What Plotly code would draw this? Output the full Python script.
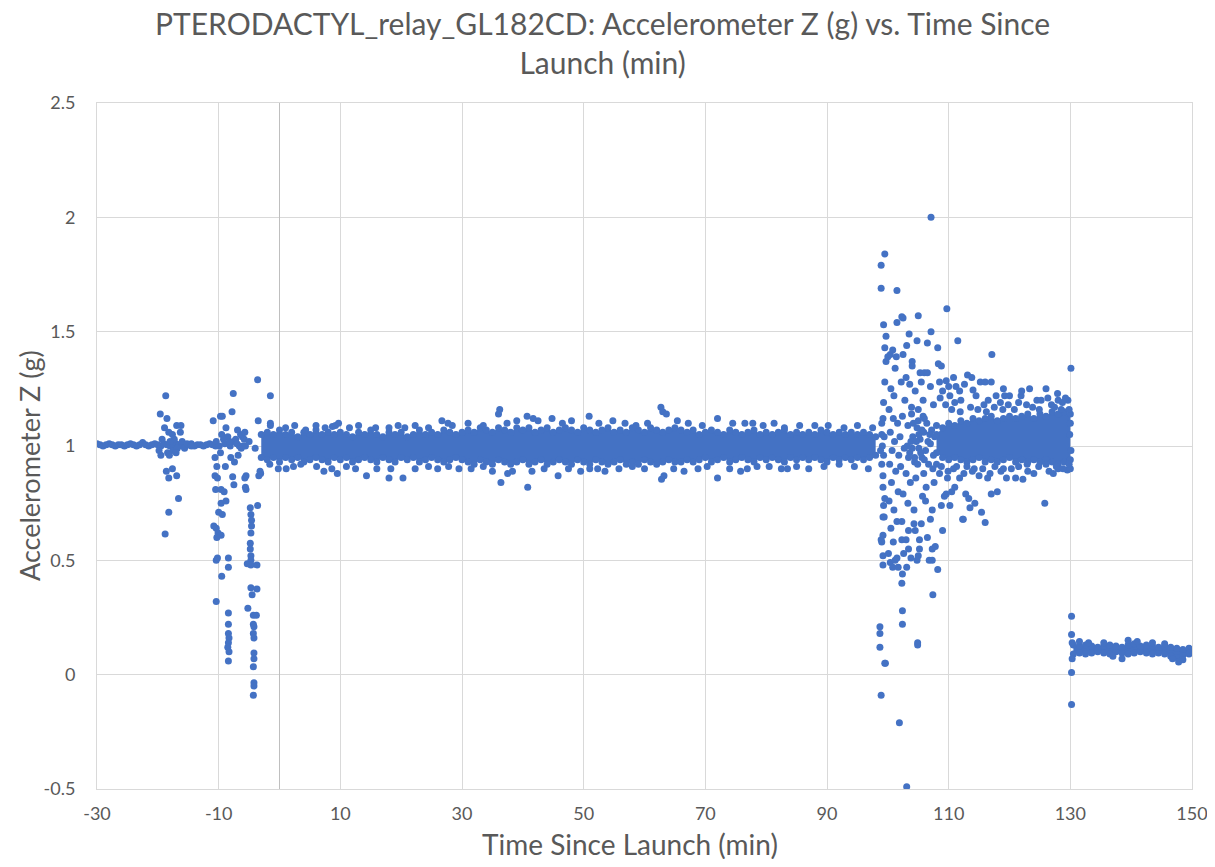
import plotly.graph_objects as go

# ---- data ----
x_ticks = [-30, -10, 10, 30, 50, 70, 90, 110, 130, 150]
x_ticklabels = ["-30", "-10", "10", "30", "50", "70", "90", "110", "130", "150"]
y_ticks = [-0.5, 0, 0.5, 1, 1.5, 2, 2.5]
y_ticklabels = ["-0.5", "0", "0.5", "1", "1.5", "2", "2.5"]

# flat pre-launch readings
flat_t = [-30.0, -29.5, -29.0, -28.5, -28.0, -27.5, -27.0, -26.5, -26.0, -25.5,
          -25.0, -24.5, -24.0, -23.5, -23.0, -22.5, -22.0, -21.5, -21.0, -20.5,
          -20.0, -19.5, -19.0, -18.5, -18.0, -17.5, -17.0, -16.5, -16.0, -15.5,
          -15.0, -14.5, -14.0, -13.5, -13.0, -12.5, -12.0, -11.5, -11.0, -10.5]
flat_y = [1.01, 1.005, 1.0, 1.005, 1.01, 1.005, 1.0, 1.005, 1.005, 1.0,
          1.005, 1.01, 1.005, 1.0, 1.005, 1.015, 1.005, 1.0, 1.005, 1.01,
          1.005, 1.0, 1.01, 1.005, 1.0, 1.005, 1.01, 1.005, 1.0, 1.005,
          1.005, 1.01, 1.0, 1.005, 1.005, 1.0, 1.005, 1.01, 1.005, 1.0]

# scattered pre-launch readings
pre_t = [-19.6, -18.7, -18.5, -18.9, -18.2, -17.6, -16.9, -16.2, -16.3, -17.3,
         -19.3, -18.0, -16.0, -19.8, -18.4, -17.5, -16.8, -19.5, -18.1, -17.0,
         -15.6, -18.6, -17.6, -18.2, -16.9, -16.6, -18.2, -18.8, -15.2, -14.5,
         -10.9, -9.7, -9.4, -7.6, -7.8, -8.8, -9.5, -8.5, -7.2, -10.4,
         -9.9, -9.0, -8.1, -7.5, -6.6, -6.1, -10.6, -10.3, -8.9, -10.6,
         -10.2, -7.7, -7.5, -10.5, -9.6, -9.1, -9.6, -8.8, -10.0, -9.4,
         -10.8, -10.4, -10.1, -9.6, -10.3, -10.4, -10.2, -8.4, -8.4, -9.5,
         -10.4, -8.4, -8.4, -8.4, -8.3, -8.4, -8.5, -8.3, -8.4, -9.7,
         -8.0, -7.4, -6.8, -6.3, -9.2, -8.2, -7.0, -6.0, -5.8, -6.4,
         -3.6, -3.5, -5.7, -5.6, -5.5, -5.7, -5.6, -5.5, -3.6, -4.8,
         -4.7, -4.6, -4.6, -4.7, -4.8, -4.8, -4.7, -4.7, -4.7, -3.7,
         -5.3, -4.7, -3.7, -4.5, -5.2, -4.3, -3.8, -4.3, -4.2, -4.3,
         -4.2, -4.2, -4.2, -4.3, -4.2, -4.2, -4.3, -3.1, -3.4, -3.2,
         -1.5, -1.5, -1.5, -1.6, -0.2, -5.0, -4.0, -6.9]
pre_y = [1.14, 1.22, 1.12, 1.08, 1.06, 1.05, 1.09, 1.09, 1.06, 1.03,
         1.03, 1.02, 1.02, 0.98, 0.97, 0.98, 0.99, 0.96, 0.96, 0.97,
         0.99, 0.89, 0.90, 0.86, 0.87, 0.77, 0.71, 0.615, 1.01, 1.0,
         1.11, 1.13, 1.13, 1.23, 1.15, 1.08, 1.05, 1.04, 1.03, 1.02,
         1.0, 1.01, 1.0, 1.02, 1.0, 1.04, 0.95, 0.91, 0.91, 0.87,
         0.86, 0.865, 0.83, 0.81, 0.81, 0.80, 0.75, 0.76, 0.71, 0.70,
         0.65, 0.64, 0.62, 0.61, 0.60, 0.50, 0.51, 0.51, 0.47, 0.43,
         0.32, 0.27, 0.22, 0.18, 0.16, 0.14, 0.12, 0.10, 0.06, 0.97,
         0.95, 0.93, 0.96, 0.99, 1.03, 1.02, 1.01, 1.0, 1.03, 1.05,
         1.29, 1.11, 1.06, 1.0, 0.87, 0.86, 0.82, 0.81, 0.74, 0.73,
         0.70, 0.675, 0.65, 0.62, 0.575, 0.55, 0.52, 0.50, 0.48, 0.48,
         0.485, 0.38, 0.375, 0.35, 0.29, 0.26, 0.26, 0.22, 0.21, 0.18,
         0.16, 0.095, 0.07, 0.035, -0.035, -0.05, -0.09, 0.88, 0.87, 0.89,
         1.22, 1.10, 1.09, 0.92, 0.90, 1.02, 0.99, 1.07]

# ascent/float band: upper and lower edge of the dense cloud, every minute
band_t = [-3, -2, -1, 0, 1, 2, 3, 4, 5, 6, 7, 8, 9,
          10, 11, 12, 13, 14, 15, 16, 17, 18, 19, 20, 21, 22, 23, 24, 25, 26, 27, 28, 29,
          30, 31, 32, 33, 34, 35, 36, 37, 38, 39, 40, 41, 42, 43, 44, 45, 46, 47,
          48, 49, 50, 51, 52, 53, 54, 55, 56, 57, 58, 59, 60, 61, 62, 63, 64, 65,
          66, 67, 68, 69, 70, 71, 72, 73, 74, 75, 76, 77, 78, 79, 80, 81, 82,
          83, 84, 85, 86, 87, 88, 89, 90, 91, 92, 93, 94, 95, 96, 97, 98]
band_top = [1.05, 1.06, 1.05, 1.07, 1.05, 1.06, 1.04, 1.06, 1.05, 1.07, 1.05, 1.06, 1.05,
            1.06, 1.05, 1.04, 1.06, 1.05, 1.07, 1.05, 1.04, 1.06, 1.05, 1.06, 1.04, 1.05,
            1.07, 1.05, 1.06, 1.05, 1.07, 1.06, 1.05,
            1.06, 1.07, 1.06, 1.08, 1.07, 1.06, 1.08, 1.07, 1.06, 1.08, 1.07, 1.08, 1.06,
            1.07, 1.08, 1.06, 1.07, 1.08, 1.07, 1.06, 1.08, 1.07, 1.06, 1.07, 1.08, 1.06,
            1.07, 1.06, 1.08, 1.07, 1.06, 1.08, 1.07, 1.06, 1.07, 1.08,
            1.07, 1.06, 1.07, 1.05, 1.06, 1.07, 1.06, 1.05, 1.07, 1.06, 1.05, 1.06, 1.07,
            1.05, 1.06, 1.05, 1.06, 1.07, 1.05, 1.06, 1.05, 1.06, 1.05, 1.07, 1.06, 1.05,
            1.06, 1.05, 1.06, 1.05, 1.06, 1.05, 1.04]
band_bot = [0.95, 0.94, 0.95, 0.93, 0.95, 0.94, 0.95, 0.93, 0.94, 0.95, 0.94, 0.93, 0.95,
            0.94, 0.95, 0.93, 0.94, 0.95, 0.94, 0.93, 0.95, 0.94, 0.93, 0.95, 0.94, 0.95,
            0.93, 0.94, 0.95, 0.94, 0.93, 0.94, 0.95,
            0.94, 0.93, 0.92, 0.94, 0.93, 0.92, 0.94, 0.93, 0.92, 0.93, 0.94, 0.92, 0.93,
            0.94, 0.92, 0.93, 0.94, 0.93, 0.92, 0.94, 0.93, 0.92, 0.94, 0.93, 0.92, 0.93,
            0.94, 0.92, 0.93, 0.92, 0.94, 0.93, 0.92, 0.93, 0.94, 0.93,
            0.93, 0.94, 0.93, 0.94, 0.95, 0.93, 0.94, 0.95, 0.93, 0.94, 0.95, 0.94, 0.93,
            0.95, 0.94, 0.95, 0.94, 0.93, 0.95, 0.94, 0.95, 0.94, 0.95, 0.94, 0.93, 0.95,
            0.94, 0.95, 0.94, 0.95, 0.94, 0.95, 0.96]

# stray readings around the band
asc_t = [1.0, 2.5, 4.3, 6.0, 7.5, 8.7, 9.2, 9.7, 11.5, 13.0, 15.8, 18.0, 19.5, 20.6,
         22.3, 24.5, 26.7, 27.7, 28.4, 31.0, 33.5, 36.2, 36.0, 37.4, 39.0, 40.7, 42.5,
         41.7, 44.8, 46.5, 48.0, 50.9, 52.5, 54.8, 56.8, 58.6, 60.5, 62.7, 63.0, 63.6,
         65.4, 67.2, 69.5, 72.0, 74.5, 76.5, 77.8, 79.5, 81.3, 83.0, 85.5, 88.0, 90.2,
         92.8, 95.0, 97.5,
         1.1, 2.3, 3.5, 6.1, 7.3, 8.6, 9.5, 11.0, 12.5, 14.3, 16.0, 18.0, 20.3, 18.3,
         22.3, 24.5, 26.0, 27.8, 29.5, 31.5, 33.5, 35.0, 36.4, 37.5, 38.3, 40.8, 41.5,
         43.5, 45.8, 47.5, 49.5, 51.0, 52.3, 53.5, 55.8, 58.0, 60.0, 62.8, 63.2, 64.8,
         66.5, 68.8, 70.3, 72.0, 74.0, 75.8, 76.9, 78.5, 80.5, 82.5, 83.5, 85.0, 87.0,
         89.5, 92.0, 94.5, 96.8]
asc_y = [1.08, 1.09, 1.07, 1.09, 1.08, 1.085, 1.09, 1.10, 1.08, 1.09, 1.08, 1.08, 1.09, 1.08,
         1.09, 1.08, 1.11, 1.10, 1.09, 1.10, 1.09, 1.16, 1.14, 1.10, 1.11, 1.13, 1.11,
         1.12, 1.12, 1.10, 1.11, 1.13, 1.10, 1.11, 1.10, 1.09, 1.10, 1.17, 1.15, 1.14,
         1.11, 1.10, 1.09, 1.12, 1.10, 1.10, 1.10, 1.09, 1.10, 1.08, 1.09, 1.09, 1.09,
         1.08, 1.09, 1.08,
         0.90, 0.91, 0.92, 0.91, 0.89, 0.90, 0.88, 0.91, 0.90, 0.87, 0.90, 0.86, 0.86, 0.90,
         0.90, 0.91, 0.90, 0.91, 0.90, 0.90, 0.91, 0.89, 0.84, 0.88, 0.89, 0.82, 0.89,
         0.90, 0.87, 0.90, 0.89, 0.90, 0.90, 0.89, 0.90, 0.91, 0.90, 0.855, 0.87, 0.90,
         0.89, 0.90, 0.91, 0.86, 0.90, 0.89, 0.90, 0.91, 0.91, 0.90, 0.90, 0.91, 0.90,
         0.91, 0.92, 0.91, 0.90]

# descent: dense core edges
desc_t = [108, 109, 110, 111, 112, 113, 114, 115, 116, 117, 118, 119,
          120, 121, 122, 123, 124, 125, 126, 127, 128, 129, 130]
desc_top = [1.05, 1.08, 1.10, 1.09, 1.11, 1.10, 1.12, 1.11, 1.12, 1.13, 1.11, 1.12,
            1.13, 1.12, 1.13, 1.14, 1.12, 1.14, 1.13, 1.15, 1.14, 1.15, 1.14]
desc_bot = [0.97, 0.95, 0.94, 0.95, 0.94, 0.93, 0.94, 0.95, 0.93, 0.94, 0.93, 0.94,
            0.95, 0.93, 0.94, 0.93, 0.94, 0.93, 0.94, 0.93, 0.92, 0.93, 0.94]

# descent: looser readings around 1 g before the core settles
desc_mid_t = [103.2, 103.6, 104.1, 104.4, 104.8, 105.1, 105.3, 105.6, 105.9, 106.2,
              106.4, 106.7, 107.0, 107.2, 107.5, 107.7, 108.0, 104.0, 105.0, 106.0,
              106.9, 107.4, 103.9, 105.8, 106.6]
desc_mid_y = [1.00, 0.97, 1.04, 0.93, 1.08, 0.99, 1.03, 0.95, 1.06, 0.98,
              1.10, 0.92, 1.01, 1.07, 0.96, 1.04, 1.09, 0.99, 1.11, 0.94,
              1.05, 0.90, 1.14, 1.13, 1.02]

# descent: scattered readings
desc_pts_t = [98.9, 98.9, 99.5, 99.3, 99.7, 99.5, 99.7, 99.5, 99.3, 99.2, 99.0, 99.1,
              99.3, 99.2, 99.2, 99.5, 99.2, 99.4, 99.2, 99.0, 99.2, 99.2, 98.9, 98.7,
              98.7, 98.7, 99.5, 99.6, 98.9, 99.0, 98.8, 99.4, 99.0, 99.3,
              100.0, 100.4, 100.8, 101.5, 101.5, 101.4, 101.2, 100.5, 101.0, 100.2,
              100.9, 101.6, 100.4, 101.1, 100.7, 101.8, 100.3, 101.3, 100.6, 101.7,
              100.2, 101.0, 100.5, 101.5, 100.1, 100.4, 100.8, 101.2, 101.7, 101.9,
              101.5, 100.9,
              102.3, 102.5, 103.1, 103.5, 102.5, 103.0, 104.0, 104.0, 102.2, 103.6,
              102.8, 103.9, 102.4, 103.3, 102.0, 103.8, 102.7, 103.4, 102.1, 103.0,
              103.7, 102.5, 103.3, 102.3, 102.3, 103.0, 103.4, 102.3, 102.4, 103.1,
              102.4, 102.4, 103.1, 102.6, 103.4, 103.8, 104.3, 104.5,
              105.0, 104.8, 106.5, 105.3, 106.0, 106.5, 105.5, 104.5, 105.8, 107.0,
              104.9, 104.9, 105.2, 105.0, 104.8, 105.5, 105.2, 106.5, 106.8, 107.3,
              107.4, 107.3, 107.8, 107.0, 107.3, 105.7, 106.3, 104.6, 105.9, 107.6,
              106.2, 104.3, 107.1, 107.1, 107.5, 105.0, 106.0, 104.2, 104.7, 105.4,
              104.4, 105.1, 104.9, 105.6,
              108.2, 108.3, 108.8, 109.7, 109.6, 108.5, 109.0, 110.2, 111.5, 110.8,
              111.2, 108.2, 109.0, 108.8, 109.3, 109.6, 110.5, 110.2, 111.0, 109.8,
              108.5, 111.8, 112.4, 112.3, 112.8, 108.0, 110.8, 112.0, 112.6,
              113.1, 113.8, 115.2, 116.0, 117.0, 117.1, 114.0, 114.5, 116.5, 118.5,
              119.2, 120.0, 113.3, 114.3, 113.5, 115.4, 116.0, 117.0, 118.0, 119.5,
              121.0, 122.2, 115.0, 116.8, 118.6, 114.2, 113.0, 120.3, 117.5, 115.8,
              123.3, 127.9, 124.5, 128.7, 126.3, 121.5, 125.2, 122.8, 130.1, 125.8,
              124.0, 126.5, 128.0, 129.5, 130.0, 123.0, 127.2, 129.8, 129.9, 130.0,
              130.1, 129.8, 129.6, 128.0,
              108.6, 109.5, 110.5, 111.0, 111.9, 113.6, 114.8, 116.2, 117.8, 118.9,
              119.8, 120.8, 121.9, 123.8, 124.9, 126.9, 127.4, 128.5, 129.2, 126.0,
              122.0, 119.0, 110.0, 111.8,
              108.8, 109.9, 111.3, 112.5, 113.9, 115.6, 116.4, 117.6, 119.0, 121.5,
              122.9, 124.8, 126.0, 127.7, 128.8]
desc_pts_y = [1.79, 1.69, 1.84, 1.53, 1.48, 1.43, 1.37, 1.28, 1.19, 1.12, 1.05, 1.00,
              0.96, 0.87, 0.82, 0.77, 0.69, 0.69, 0.61, 0.58, 0.52, 0.48, 0.59, 0.21,
              0.18, 0.12, 0.05, 0.05, -0.09, 1.10, 0.98, 1.04, 0.92, 0.74,
              1.39, 1.40, 1.42, 1.68, 1.54, 1.39, 1.34, 1.25, 1.22, 1.16,
              1.12, 1.10, 1.06, 1.02, 0.98, 0.96, 0.92, 0.89, 0.84, 0.80,
              0.76, 0.72, 0.64, 0.67, 0.53, 0.49, 0.47, 0.50, 0.47, -0.21,
              0.51, 0.58,
              1.565, 1.56, 1.44, 1.49, 1.40, 1.30, 1.37, 1.35, 1.28, 1.27,
              1.20, 1.17, 1.13, 1.09, 1.04, 1.02, 0.99, 0.95, 0.91, 0.88,
              0.84, 0.79, 0.75, 0.67, 0.59, 0.59, 0.63, 0.40, 0.44, 0.47,
              0.28, 0.22, -0.49, 0.53, 0.55, 0.51, 0.66, 0.63,
              1.57, 1.46, 1.45, 1.32, 1.32, 1.32, 1.28, 1.24, 1.20, 1.26,
              0.14, 0.13, 0.55, 0.52, 0.50, 0.66, 0.59, 0.60, 0.50, 0.50,
              0.35, 0.55, 0.56, 0.68, 0.72, 0.78, 0.82, 0.86, 0.88, 0.84,
              0.76, 0.72, 2.00, 1.50, 1.18, 1.16, 1.12, 1.10, 1.02, 0.97,
              0.95, 1.05, 0.92, 1.07,
              1.43, 1.36, 1.35, 1.60, 1.285, 1.28, 1.24, 1.22, 1.46, 1.30,
              1.26, 0.46, 0.63, 0.74, 0.78, 0.79, 0.80, 0.74, 0.82, 0.86,
              0.88, 0.86, 0.68, 0.68, 0.79, 0.92, 0.90, 1.20, 1.27,
              1.31, 1.30, 1.28, 1.28, 1.28, 1.40, 1.245, 1.22, 1.20, 1.19,
              1.22, 1.22, 0.77, 0.75, 0.73, 0.71, 0.665, 0.79, 0.80, 0.86,
              0.86, 0.855, 0.87, 0.88, 0.89, 0.90, 0.91, 0.90, 1.17, 1.18,
              1.25, 1.23, 1.20, 1.19, 1.21, 1.19, 1.20, 1.18, 1.34, 0.75,
              0.88, 0.89, 0.90, 0.895, 0.90, 0.89, 0.88, 0.92, 1.05, 1.10,
              0.98, 1.16, 1.20, 1.20,
              1.21, 1.18, 1.16, 1.19, 1.15, 1.17, 1.16, 1.15, 1.22, 1.16,
              1.18, 1.16, 1.22, 1.17, 1.16, 1.18, 1.17, 1.16, 1.21, 1.25,
              1.24, 1.25, 1.26, 1.24,
              0.91, 0.89, 0.91, 0.88, 0.89, 0.90, 0.86, 0.91, 0.90, 0.91,
              0.92, 0.91, 0.92, 0.91, 0.90]

# on the ground after landing
ground_t = [130.5, 131.5, 132.5, 133.5, 134.5, 135.5, 136.5, 137.5, 138.5, 139.5,
            140.5, 141.5, 142.5, 143.5, 144.5, 145.5, 146.5, 147.5, 148.5, 149.5]
ground_top = [0.13, 0.125, 0.13, 0.125, 0.12, 0.125, 0.13, 0.125, 0.12, 0.13,
              0.135, 0.125, 0.13, 0.125, 0.12, 0.125, 0.12, 0.115, 0.11, 0.115]
ground_bot = [0.09, 0.095, 0.09, 0.095, 0.10, 0.095, 0.09, 0.10, 0.095, 0.09,
              0.095, 0.10, 0.095, 0.09, 0.095, 0.09, 0.08, 0.075, 0.085, 0.09]
ground_pts_t = [130.2, 130.2, 130.2, 130.2, 130.3, 130.3, 131.5, 133.0, 135.5, 137.0,
                138.5, 139.5, 141.0, 143.5, 145.5, 146.8, 147.8, 148.5, 149.6, 150.0]
ground_pts_y = [0.255, 0.176, 0.01, -0.13, 0.14, 0.07, 0.145, 0.14, 0.14, 0.08,
                0.07, 0.15, 0.145, 0.14, 0.135, 0.07, 0.055, 0.065, 0.095, 0.10]

BLUE = "#4472C4"
GREY = "#595959"
GRID = "#D9D9D9"
FONT = "Lato"
MS = 7

# the page body adds an 8px margin, so the figure is 16px smaller than the window
W, H = 1199, 851
L, R, T, B = 89, 15, 95, 70
PW, PH = W - L - R, H - T - B


def px(x):
    return (x - L) / PW


def py(y):
    return (H - B - y) / PH


fig = go.Figure()


def add_edge(t, y, fill=None):
    fig.add_trace(go.Scatter(x=t, y=y, mode="lines+markers", fill=fill,
                             fillcolor=BLUE, line=dict(width=0, color=BLUE),
                             marker=dict(color=BLUE, size=MS),
                             showlegend=False, hoverinfo="x+y"))


def add_scatter(t, y):
    fig.add_trace(go.Scatter(x=t, y=y, mode="markers",
                             marker=dict(color=BLUE, size=MS),
                             showlegend=False, hoverinfo="x+y"))


def add_cloud(t, lo, hi):
    # lower edge, then upper edge filled down to it
    add_edge(t, lo)
    add_edge(t, hi, fill="tonexty")


add_scatter(flat_t, flat_y)
add_scatter(pre_t, pre_y)
add_cloud(band_t, band_bot, band_top)
add_scatter(asc_t, asc_y)
add_cloud(desc_t, desc_bot, desc_top)
add_scatter(desc_mid_t, desc_mid_y)
add_scatter(desc_pts_t, desc_pts_y)
add_cloud(ground_t, ground_bot, ground_top)
add_scatter(ground_pts_t, ground_pts_y)

fig.update_layout(
    width=W, height=H,
    margin=dict(l=L, r=R, t=T, b=B, autoexpand=False),
    paper_bgcolor="white", plot_bgcolor="white",
    font=dict(family=FONT, color=GREY),
    xaxis=dict(range=[-30, 150], tickvals=x_ticks, ticktext=x_ticklabels,
               showgrid=True, gridcolor=GRID, gridwidth=1,
               zeroline=True, zerolinecolor="#BFBFBF", zerolinewidth=1,
               showline=True, mirror=True, linecolor=GRID, linewidth=1,
               ticks="", ticklabelstandoff=8, ticklabeloverflow="allow",
               automargin=False, tickfont=dict(size=18, color=GREY)),
    yaxis=dict(range=[-0.5, 2.5], tickvals=y_ticks, ticktext=y_ticklabels,
               showgrid=True, gridcolor=GRID, gridwidth=1,
               zeroline=False, showline=True, mirror=True, linecolor=GRID, linewidth=1,
               ticks="", ticklabelstandoff=17, ticklabeloverflow="allow",
               automargin=False, tickfont=dict(size=18, color=GREY)),
    annotations=[
        dict(text="PTERODACTYL_relay_GL182CD: Accelerometer Z (g) vs. Time Since<br>Launch (min)",
             xref="paper", yref="paper", x=px(594), y=py(34),
             xanchor="center", yanchor="middle", showarrow=False,
             font=dict(family=FONT, size=30, color=GREY)),
        dict(text="Accelerometer Z (g)", xref="paper", yref="paper",
             x=px(21), y=py(458), xanchor="center", yanchor="middle",
             textangle=-90, showarrow=False, font=dict(family=FONT, size=27, color=GREY)),
        dict(text="Time Since Launch (min)", xref="paper", yref="paper",
             x=px(622), y=py(836), xanchor="center", yanchor="middle",
             showarrow=False, font=dict(family=FONT, size=28, color=GREY)),
    ],
)

fig.write_html("out.html")
